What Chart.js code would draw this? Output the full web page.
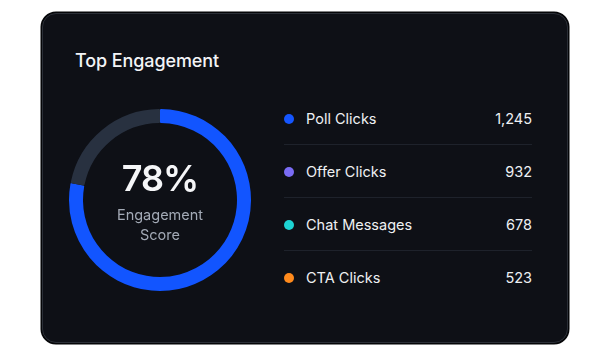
<!DOCTYPE html>
<html>
<head>
<meta charset="utf-8">
<script src="https://cdn.jsdelivr.net/npm/chart.js@4"></script>
<style>
  html, body { margin: 0; padding: 0; background: #ffffff; }
  body { width: 600px; height: 345px; position: relative; overflow: hidden; font-family: Inter, "Noto Sans", sans-serif; }
  .card {
    position: absolute; left: 42px; top: 13px; width: 524px; height: 328px;
    background: #0e1016; border: 1px solid #2b2f37; border-radius: 14px;
    box-shadow: 0 0 0 1.5px #050608;
  }
  .title { position: absolute; left: 75px; top: 50px; color: #f3f4f6; font-size: 18px; font-weight: 500; letter-spacing: -0.1px; }
  #donut { position: absolute; left: 60px; top: 100px; }
  .center { position: absolute; left: 60px; top: 100px; width: 200px; height: 200px; text-align: center; }
  .pct { position: absolute; left: 0; width: 200px; top: 56px; color: #f5f6f8; font-size: 36px; font-weight: 600; letter-spacing: -1px; }
  .sub { position: absolute; left: 0; width: 200px; top: 105px; color: #a3aab6; font-size: 14.5px; line-height: 20px; }
  .row { position: absolute; left: 284px; width: 248px; height: 20px; color: #eef0f3; font-size: 14.5px; }
  .row .dot { position: absolute; left: 0px; top: 5px; width: 10px; height: 10px; border-radius: 50%; }
  .row .lab { position: absolute; left: 22px; top: 0; line-height: 20px; }
  .row .val { position: absolute; right: 0; top: 0; line-height: 20px; }
  .sep { position: absolute; left: 284px; width: 248px; height: 1px; background: #1e222b; }
</style>
</head>
<body>
<div class="card"></div>
<div class="title">Top Engagement</div>
<canvas id="donut" width="200" height="200"></canvas>
<div class="center">
  <div class="pct" id="pct"></div>
  <div class="sub">Engagement<br>Score</div>
</div>
<div id="list"></div>
<script>
const score = 78;
const categories = ["Poll Clicks", "Offer Clicks", "Chat Messages", "CTA Clicks"];
const counts = [1245, 932, 678, 523];
const dotColors = ["#1556ff", "#7a6cf5", "#1dd3d3", "#ff8a1c"];

const ctx = document.getElementById('donut');
const donut = new Chart(ctx, {
  type: 'doughnut',
  data: {
    labels: ['Score', 'Rest'],
    datasets: [{
      data: [score, 100 - score],
      backgroundColor: ['#1255ff', '#283140'],
      borderWidth: 0,
      borderRadius: 1
    }]
  },
  options: {
    responsive: false,
    animation: false,
    cutout: 77,
    layout: { padding: 9 },
    plugins: { legend: { display: false }, tooltip: { enabled: false } }
  }
});

document.getElementById('pct').textContent = score + '%';

// lista de la derecha
const list = document.getElementById('list');
const rowTop = 109, rowGap = 53;
for (let i = 0; i < categories.length; i++) {
  let row = document.createElement('div');
  row.className = 'row';
  row.style.top = (rowTop + i * rowGap) + 'px';
  row.innerHTML = '<span class="dot" style="background:' + dotColors[i] + '"></span>' +
    '<span class="lab">' + categories[i] + '</span>' +
    '<span class="val">' + counts[i].toLocaleString('en-US') + '</span>';
  list.appendChild(row);
  if (i < categories.length - 1) {
    let sep = document.createElement('div');
    sep.className = 'sep';
    sep.style.top = (rowTop + i * rowGap + 35) + 'px';
    list.appendChild(sep);
  }
}
</script>
</body>
</html>
